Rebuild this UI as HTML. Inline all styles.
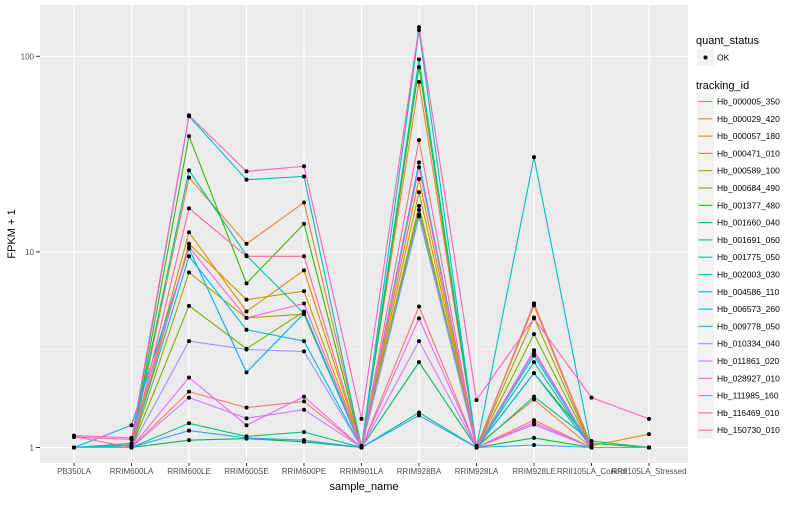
<!DOCTYPE html>
<html><head><meta charset="utf-8"><style>
body{margin:0;background:#fff;}
svg text{font-family:"Liberation Sans",sans-serif;}
</style></head><body>
<svg id="chart" width="800" height="500" xmlns="http://www.w3.org/2000/svg">
<rect x="0" y="0" width="800" height="500" fill="#fff"/>
<rect x="40" y="5" width="648" height="458" fill="#EBEBEB"/>
<g id="grid"></g><g id="lines"></g><g id="pts"></g><g id="axes"></g><g id="legend"></g>
</svg>
<script>
const categories=["PB350LA","RRIM600LA","RRIM600LE","RRIM600SE","RRIM600PE","RRIM901LA","RRIM928BA","RRIM928LA","RRIM928LE","RRII105LA_Control","RRII105LA_Stressed"];
const seriesNames=["Hb_000005_350","Hb_000029_420","Hb_000057_180","Hb_000471_010","Hb_000589_100","Hb_000684_490","Hb_001377_480","Hb_001660_040","Hb_001691_060","Hb_001775_050","Hb_002003_030","Hb_004586_110","Hb_006573_260","Hb_009778_050","Hb_010334_040","Hb_011861_020","Hb_028927_010","Hb_111985_160","Hb_116469_010","Hb_150730_010"];
const seriesColors=["#F8766D","#EA8331","#D89000","#C09B00","#A3A500","#7CAE00","#39B600","#00BB4E","#00BF7D","#00C1A3","#00BFC4","#00BAE0","#00B0F6","#35A2FF","#9590FF","#C77CFF","#E76BF3","#FA62DB","#FF62BC","#FF6C91"];
const s01=[1,1,1.93,1.6,1.72,1,5.26,1,1.38,1,1];
const s02=[1,1.02,24,11,17.9,1.02,73.9,1.02,1.76,1,1];
const s03=[1,1.03,12.6,4.96,8.05,1,23.6,1,5.45,1.02,1.17];
const s04=[1,1,11,5.7,6.3,1,20.2,1,5.33,1,1];
const s05=[1,1,7.85,4.6,4.8,1,17.2,1,4.62,1,1];
const s06=[1,1,5.3,3.2,4.95,1,16.4,1,3.8,1,1];
const s07=[1,1,39.1,6.9,13.9,1,88,1,2.4,1.05,1];
const s08=[1,1,1.09,1.11,1.07,1,2.73,1,1.12,1,1];
const s09=[1,1,1.33,1.14,1.2,1,1.51,1,1.82,1.08,1];
const s10=[1,1.05,26.1,9.6,4.85,1,96.5,1,2.73,1,1];
const s11=[1,1.05,49.4,23.4,24.3,1,136,1,30.5,1,1];
const s12=[1,1.02,9.5,4,3.5,1,28.7,1,2.95,1,1];
const s13=[1,1.3,10.4,2.42,4.85,1,15.2,1,2.4,1,1];
const s14=[1,1,1.22,1.12,1.09,1,1.46,1,1.03,1,1];
const s15=[1,1,3.5,3.17,3.1,1,15.5,1,3.06,1,1];
const s16=[1,1,1.8,1.41,1.56,1,3.5,1,1.31,1,1];
const s17=[1,1,2.28,1.3,1.82,1,4.57,1,1.34,1,1];
const s18=[1.15,1.12,10.6,4.6,5.45,1,27.1,1,3.14,1,1];
const s19=[1.13,1.1,49.9,25.8,27.4,1.4,141,1.75,4.57,1.8,1.4];
const s20=[1.14,1,16.7,9.5,9.5,1,37.3,1,5.45,1,1];
const seriesValues=[s01,s02,s03,s04,s05,s06,s07,s08,s09,s10,s11,s12,s13,s14,s15,s16,s17,s18,s19,s20];
const yTicks=[1,10,100];
const yTickLabels=["1","10","100"];

const NS="http://www.w3.org/2000/svg";
function xScale(i){return 74+i*57.5;}
function yScale(v){return 447.5-Math.log10(v)*195.6;}
function mk(tag,attrs,parent){const e=document.createElementNS(NS,tag);for(const k in attrs)e.setAttribute(k,attrs[k]);parent.appendChild(e);return e;}
const G=id=>document.getElementById(id);
[0.5,1.5,2.5].forEach(d=>{const y=yScale(Math.pow(10,d));const l=mk('line',{x1:40,x2:688,y1:y,y2:y,stroke:'#F5F5F5','stroke-width':0.6},G('grid'));

});
yTicks.forEach((t,i)=>{const y=yScale(t);const l=mk('line',{x1:40,x2:688,y1:y,y2:y,stroke:'#fff','stroke-width':1.1},G('grid'));


mk('line',{x1:36,x2:40,y1:y,y2:y,stroke:'#333','stroke-width':1},G('axes'));
const tx=mk('text',{x:34,y:y+3,'text-anchor':'end','font-size':8,fill:'#4D4D4D'},G('axes'));tx.textContent=yTickLabels[i];

});
categories.forEach((c,i)=>{const x=xScale(i);const l=mk('line',{x1:x,x2:x,y1:5,y2:463,stroke:'#fff','stroke-width':1.1},G('grid'));


mk('line',{x1:x,x2:x,y1:463,y2:466,stroke:'#333','stroke-width':1},G('axes'));
const tx=mk('text',{x:x,y:474,'text-anchor':'middle','font-size':8,fill:'#4D4D4D'},G('axes'));tx.textContent=c;

});
const xt=mk('text',{x:364,y:490,'text-anchor':'middle','font-size':11,fill:'#000'},G('axes'));xt.textContent='sample_name';


const yt=mk('text',{x:0,y:0,transform:'translate(15,234) rotate(-90)','text-anchor':'middle','font-size':11,fill:'#000'},G('axes'));yt.textContent='FPKM + 1';


seriesValues.forEach((vals,s)=>{
 const pts=vals.map((v,i)=>xScale(i).toFixed(1)+','+yScale(v).toFixed(1)).join(' ');
 const pl=mk('polyline',{points:pts,fill:'none',stroke:seriesColors[s],'stroke-width':1.1},G('lines'));
 
 
 vals.forEach((v,i)=>{const c=mk('circle',{cx:xScale(i),cy:yScale(v),r:2,fill:'#000'},G('pts'));
 
 });
});
const L=G('legend');
let t=mk('text',{x:696,y:44,'font-size':11,fill:'#000'},L);t.textContent='quant_status';


mk('rect',{x:697,y:49,width:17,height:17,fill:'#F2F2F2'},L);
mk('circle',{cx:705.5,cy:57.5,r:2,fill:'#000'},L);
t=mk('text',{x:717,y:60.5,'font-size':8.5,fill:'#000'},L);t.textContent='OK';


t=mk('text',{x:696,y:89,'font-size':11,fill:'#000'},L);t.textContent='tracking_id';


seriesNames.forEach((n,s)=>{const y=93+s*17.3;
 mk('rect',{x:697,y:y,width:17,height:17,fill:'#F2F2F2'},L);
 mk('line',{x1:698.5,x2:712.5,y1:y+8.5,y2:y+8.5,stroke:seriesColors[s],'stroke-width':1.1},L);
 const tx=mk('text',{x:717,y:y+11.5,'font-size':8.5,fill:'#000'},L);tx.textContent=n;
 
 
});
</script>
</body></html>
